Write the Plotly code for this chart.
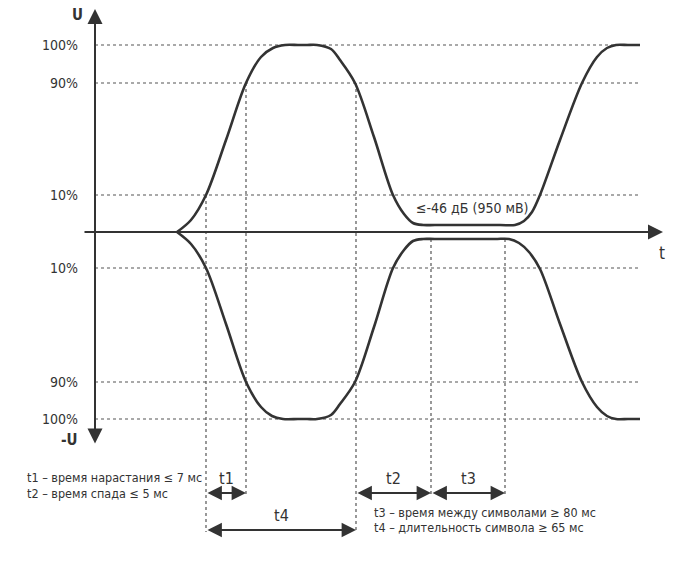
import plotly.graph_objects as go

# ---- data (schematic units: x = time, y = signal level; axis origin at 0,0) ----
upper_x = [82, 96, 111, 131, 151, 166, 178, 190, 203, 212, 222,
           236, 245, 260, 279, 298, 309, 318, 328, 340, 405, 420,
           429, 437, 445, 465, 487, 502, 512, 521, 533, 545]
upper_y = [0, 12, 37, 92, 149, 175, 184, 187, 187, 187, 187,
           183, 172, 149, 95, 37, 18, 9, 7, 7, 7, 7,
           11, 20, 37, 92, 149, 175, 184, 187, 187, 187]
lower_x = [82, 96, 111, 131, 151, 166, 177, 188, 203, 212, 222,
           236, 245, 260, 279, 298, 309, 318, 328, 340, 400, 414,
           424, 434, 445, 465, 487, 502, 512, 521, 533, 545]
lower_y = [0, -12, -36, -92, -150, -175, -184, -187, -187, -187, -187,
           -183, -172, -150, -95, -36, -18, -9, -7, -7, -7, -7,
           -11, -20, -37, -92, -150, -175, -184, -187, -187, -187]

level_vals = [187, 149, 37, -36, -150, -187]
level_text = ["100%", "90%", "10%", "10%", "90%", "100%"]

# vertical markers: (x, y_top, y_bottom)
markers = [(111, 37, -300), (151, 149, -262), (261, 149, -300), (336, -7, -262), (410, -7, -262)]
# dimension arrows: (x0, x1, y, label)
dims = [(111, 151, -261, "t1"), (261, 336, -261, "t2"), (336, 410, -261, "t3"), (111, 261, -298, "t4")]

notes_left = ["t1 – время нарастания ≤ 7 мс", "t2 – время спада ≤ 5 мс"]
notes_right = ["t3 – время между символами ≥ 80 мс", "t4 – длительность символа ≥ 65 мс"]
level_note = "≤-46 дБ (950 мВ)"

FONT = "DejaVu Sans Condensed, Liberation Sans Narrow, Roboto, sans-serif"
INK = "#333333"
DOT = "#555555"

fig = go.Figure()
for xs, ys in ((upper_x, upper_y), (lower_x, lower_y)):
    fig.add_trace(go.Scatter(x=xs, y=ys, mode="lines",
                             line=dict(color=INK, width=2.6, shape="spline", smoothing=0.9),
                             hoverinfo="skip", showlegend=False))

shapes = []
for v in level_vals:
    shapes.append(dict(type="line", xref="x", yref="y", x0=0, x1=545, y0=v, y1=v,
                       line=dict(color=DOT, width=1.2, dash="dot"), layer="below"))
for (xv, yt, yb) in markers:
    shapes.append(dict(type="line", xref="x", yref="y", x0=xv, x1=xv, y0=yt, y1=yb,
                       line=dict(color=DOT, width=1.2, dash="dot"), layer="below"))

ann = []
# horizontal axis arrow
ann.append(dict(x=568, y=0, ax=-12, ay=0, xref="x", yref="y", axref="x", ayref="y",
                text="", showarrow=True, arrowhead=2, arrowsize=1.5, arrowwidth=2,
                arrowcolor=INK, standoff=0))
# vertical axis double arrow
ann.append(dict(x=0, y=223, ax=0, ay=-213, xref="x", yref="y", axref="x", ayref="y",
                text="", showarrow=True, arrowhead=2, startarrowhead=2, arrowside="end+start",
                arrowsize=1.5, startarrowsize=1.5, arrowwidth=2, arrowcolor=INK,
                standoff=0, startstandoff=0))
# dimension arrows
for (x0, x1, yv, lab) in dims:
    ann.append(dict(x=x1, y=yv, ax=x0, ay=yv, xref="x", yref="y", axref="x", ayref="y",
                    text="", showarrow=True, arrowhead=2, startarrowhead=2,
                    arrowside="end+start", arrowsize=1.6, startarrowsize=1.6,
                    arrowwidth=1.8, arrowcolor=INK, standoff=0, startstandoff=0))
    ann.append(dict(x=(x0 + x1) / 2, y=yv + 15, xref="x", yref="y", text=lab,
                    showarrow=False, yanchor="middle", font=dict(size=16, color=INK, family=FONT)))

# axis labels
ann.append(dict(x=-18, y=217, xref="x", yref="y", text="<b>U</b>", showarrow=False,
                xanchor="center", yanchor="middle", font=dict(size=15, color=INK, family=FONT)))
ann.append(dict(x=-15, y=-208, xref="x", yref="y", text="<b>-U</b>", showarrow=False,
                xanchor="right", yanchor="middle", font=dict(size=15, color=INK, family=FONT)))
ann.append(dict(x=567, y=-21, xref="x", yref="y", text="t", showarrow=False,
                xanchor="center", yanchor="middle", font=dict(size=17, color=INK, family=FONT)))
# level tick labels
for v, t in zip(level_vals, level_text):
    ann.append(dict(x=-15, y=v, xref="x", yref="y", text=t, showarrow=False,
                    xanchor="right", yanchor="middle", font=dict(size=14, color=INK, family=FONT)))
# plateau note
ann.append(dict(x=377, y=24, xref="x", yref="y", text=level_note, showarrow=False,
                xanchor="center", yanchor="middle", font=dict(size=14, color=INK, family=FONT)))
# notes
for i, t in enumerate(notes_left):
    ann.append(dict(x=-70, y=-245 - 16 * i, xref="x", yref="y", text=t, showarrow=False,
                    xanchor="left", yanchor="middle", font=dict(size=12.5, color=INK, family=FONT)))
for i, t in enumerate(notes_right):
    ann.append(dict(x=277, y=-280 - 15.5 * i, xref="x", yref="y", text=t, showarrow=False,
                    xanchor="left", yanchor="middle", font=dict(size=12.5, color=INK, family=FONT)))

fig.update_layout(
    width=691, height=562,
    margin=dict(l=0, r=0, t=0, b=0),
    paper_bgcolor="white", plot_bgcolor="white",
    xaxis=dict(range=[-95, 596], visible=False, fixedrange=True),
    yaxis=dict(range=[-330, 232], visible=False, fixedrange=True),
    shapes=shapes, annotations=ann,
    font=dict(family=FONT, color=INK),
    showlegend=False,
)
fig.write_html("out.html", post_script="document.body.style.margin='0px';",
               config={"displayModeBar": False})
